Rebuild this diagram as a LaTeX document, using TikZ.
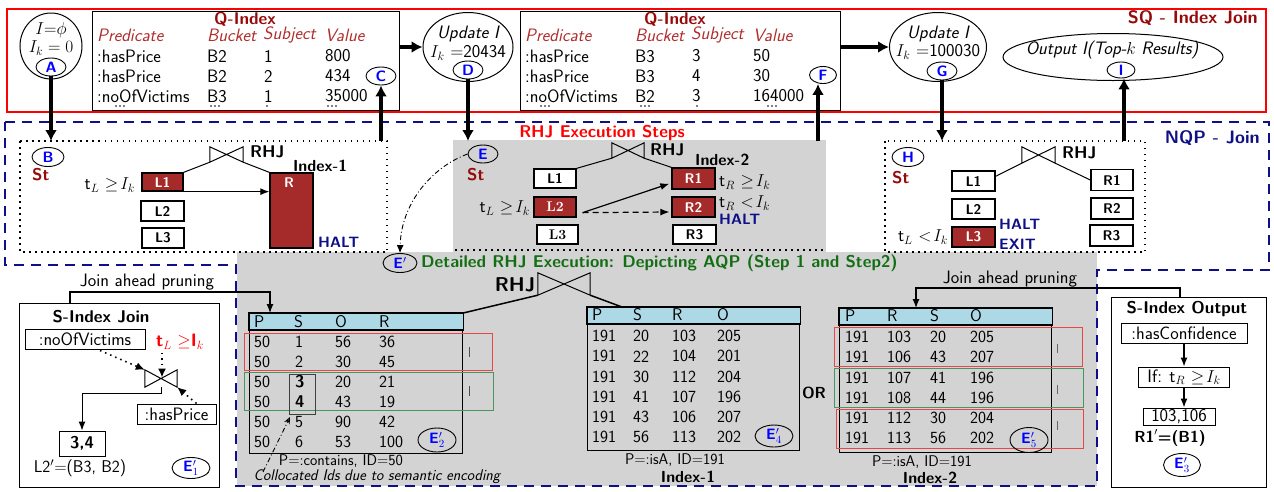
\documentclass[tikz,border=0pt]{standalone}
\usepackage{fontspec}
\renewcommand{\familydefault}{\sfdefault}
\usetikzlibrary{arrows.meta,shapes.geometric,calc}
\definecolor{dred}{RGB}{150,10,10}
\definecolor{hdr}{RGB}{175,45,45}
\definecolor{brn}{RGB}{165,42,42}
\definecolor{nvy}{RGB}{15,15,135}
\definecolor{dgrn}{RGB}{20,110,20}
\definecolor{gbg}{RGB}{211,211,211}
\definecolor{lbl}{RGB}{173,216,230}
\definecolor{trr}{RGB}{235,70,70}
\definecolor{trg}{RGB}{70,150,100}
\newcommand{\myfs}[1]{\fontsize{#1}{#1}\selectfont}
\newcommand{\drawtie}[1]{\draw[line width=1pt] (#1.north west) -- (#1.south west) -- (#1.north east) -- (#1.south east) -- cycle;}
\newcommand{\tdots}[2]{\fill (#1-4,#2) circle (0.9) (#1,#2) circle (0.9) (#1+4,#2) circle (0.9);}
\tikzset{
  lab/.style={inner sep=0pt},
  lw/.style={lab, anchor=west},
  tv/.style={lw, font=\myfs{17}},
  hd/.style={lw, text=hdr, font=\itshape\myfs{18}},
  tarr/.style={line width=3.5pt, -{Latex[length=11pt,width=12pt]}},
  narr/.style={line width=1.2pt, -{Latex[length=9pt,width=7pt]}},
  bl/.style={draw, ellipse, inner sep=0pt, minimum width=30pt, minimum height=18pt, line width=0.9pt, text=blue, font=\bfseries\myfs{15}},
  wbox/.style={draw, line width=1.3pt, fill=white, inner sep=0pt, font=\bfseries\myfs{14}},
  rbox/.style={wbox, fill=brn, text=white},
  sbox/.style={draw, line width=1pt, fill=white, inner sep=0pt},
  dotbox/.style={line width=1.6pt, dash pattern=on 1.5pt off 4.5pt},
  tie/.style={inner sep=0pt},
  st/.style={lw, text=dred, font=\bfseries\myfs{17}},
  halt/.style={lw, text=nvy, font=\bfseries\myfs{15}},
  big/.style={draw, ellipse, inner sep=0pt, line width=1pt},
  tbl/.style={draw, line width=1.2pt, inner sep=0pt, anchor=north west},
  dd/.style={line width=0.9pt, dash pattern=on 5pt off 2.5pt on 1pt off 2.5pt},
  dotarr/.style={line width=1.6pt, dash pattern=on 1.5pt off 4pt, -{Latex[length=9pt,width=8pt]}},
}
\begin{document}
\begin{tikzpicture}[x=1pt,y=-1pt,font=\myfs{18}]
\useasboundingbox (0,0) rectangle (1274,491);
% gray backgrounds
\fill[gbg] (453,140) rectangle (826,253);
\fill[gbg] (237,252) rectangle (1097,486);
\draw[dotbox] (455,250) -- (825,250);

% ===== SQ - Index Join =====
\draw[red, line width=2.5pt] (7,9) rectangle (1266,112);
\node[lab, anchor=east, text=dred, font=\bfseries\myfs{18}] (sqt) at (1258,18) {SQ - Index Join};

\node[big, minimum width=62pt, minimum height=66pt] (A) at (51,46) {};
\node[lab] (At1) at (51,30) {$I{=}\phi$};
\node[lab] (At2) at (51,48) {$I_k = 0$};
\node[bl] (a) at (51,67) {A};

\node[tbl, minimum width=307pt, minimum height=99pt, line width=1pt] (Q1) at (92,11) {};
\node[lab, text=dred, font=\bfseries\myfs{17}] (q1t) at (245,19) {Q-Index};
\node[hd] (q1h1) at (97,35) {Predicate};
\node[hd] (q1h2) at (207,35) {Bucket};
\node[hd] (q1h3) at (263,35) {Subject};
\node[hd] (q1h4) at (325,35) {Value};
\foreach \p/\b/\s/\v [count=\i] in {:hasPrice/B2/1/800, :hasPrice/B2/2/434, :noOfVictims/B3/1/35000} {
  \node[lw] (q1p\i) at (97,{36+20*\i}) {\p};
  \node[lw] (q1b\i) at (207,{36+20*\i}) {\b};
  \node[lw] (q1s\i) at (264,{36+20*\i}) {\s};
  \node[lw] (q1v\i) at (325,{36+20*\i}) {\v};
}
\tdots{120}{106}
\tdots{215}{106}
\fill (267,106) circle (0.9);
\tdots{332}{106}
\node[bl] (c) at (381,76) {C};

\node[big, minimum width=90pt, minimum height=69pt] (D) at (468,47) {};
\node[lab, font=\itshape\myfs{18}] (Dt1) at (468,34) {Update I};
\node[lab] (Dt2) at (468,53) {$I_k$ =20434};
\node[bl] (d) at (468,70) {D};

\node[tbl, minimum width=320pt, minimum height=99pt, line width=1pt] (Q2) at (520,11) {};
\node[lab, text=dred, font=\bfseries\myfs{17}] (q2t) at (675,19) {Q-Index};
\node[hd] (q2h1) at (525,35) {Predicate};
\node[hd] (q2h2) at (635,35) {Bucket};
\node[hd] (q2h3) at (691,35) {Subject};
\node[hd] (q2h4) at (753,35) {Value};
\foreach \p/\b/\s/\v [count=\i] in {:hasPrice/B3/3/50, :hasPrice/B3/4/30, :noOfVictims/B2/3/164000} {
  \node[lw] (q2p\i) at (525,{36+20*\i}) {\p};
  \node[lw] (q2b\i) at (635,{36+20*\i}) {\b};
  \node[lw] (q2s\i) at (692,{36+20*\i}) {\s};
  \node[lw] (q2v\i) at (753,{36+20*\i}) {\v};
}
\tdots{545}{106}
\tdots{645}{106}
\fill (697,106) circle (0.9);
\tdots{772}{106}
\node[bl, minimum width=27pt, minimum height=17pt] (f) at (823,75) {F};

\node[big, minimum width=97pt, minimum height=69pt] (G) at (938,47) {};
\node[lab, font=\itshape\myfs{18}] (Gt1) at (938,34) {Update I};
\node[lab] (Gt2) at (938,52) {$I_k$ =100030};
\node[bl] (g) at (942,71) {G};

\node[big, minimum width=220pt, minimum height=47pt] (O) at (1113,57) {};
\node[lab, font=\itshape\myfs{18}] (Ot) at (1112,50) {Output I(Top-$k$ Results)};
\node[bl, minimum width=28pt, minimum height=16pt] (i) at (1121,70) {I};

% ===== NQP - Join =====
\draw[nvy, line width=2.5pt, dash pattern=on 10pt off 7pt] (5,122) -- (1269,122) -- (1269,270) -- (1097,270) -- (1097,486) -- (236,486) -- (236,265) -- (5,265) -- cycle;
\node[lab, anchor=east, text=nvy, font=\bfseries\myfs{18}] (nqp) at (1260,138) {NQP - Join};

% thick arrows between layers
\draw[tarr] ($(Q1.north east)+(0,36)$) -- (D.west);
\draw[tarr] ($(Q2.north east)+(0,36)$) -- (G.west);
\coordinate (Bin) at (51,141);
\coordinate (Cout) at (381,141);
\coordinate (Ein) at (468,141);
\coordinate (Fout) at (818,141);
\coordinate (Hin) at (942,141);
\coordinate (Iout) at (1124,141);
\draw[tarr] (a.south) -- (Bin);
\draw[tarr] (Cout) -- (c.south);
\draw[tarr] (d.south) -- (Ein);
\draw[tarr] (Fout) -- (Fout |- f.south);
\draw[tarr] (g.south) -- (Hin);
\draw[tarr] (Iout) -- (Iout |- i.south);

% left dotted box (B)
\draw[dotbox] (20,141) rectangle (387,252);
\node[bl, minimum width=32pt, minimum height=19pt] (b) at (48,157) {B};
\node[st] (bst) at (32,175) {St};
\node[tie, minimum width=33pt, minimum height=15pt] (bt1) at (226.5,154.5) {};
\drawtie{bt1}
\node[lw, font=\bfseries\myfs{17}] (rhj1) at (250,152) {RHJ};
\node[lw, font=\bfseries\myfs{16}] (ix1) at (293,166) {Index-1};
\node[rbox, minimum width=41pt, minimum height=18pt] (l11) at (162.5,182) {L1};
\node[wbox, minimum width=43pt, minimum height=20pt] (l12) at (162.5,211) {L2};
\node[wbox, minimum width=42pt, minimum height=20pt] (l13) at (163,238) {L3};
\node[rbox, minimum width=43pt, minimum height=75pt] (r1) at (291.5,210.5) {};
\node[lab, text=white, font=\bfseries\myfs{14}] (r1t) at (289,183) {R};
\node[lab, anchor=east] (c1) at (135,185) {t$_L$ $\geq\!I_k$};
\node[halt] (h1) at (318,242) {HALT};
\draw[line width=1pt] (l11.north east) -- (bt1.south west);
\draw[line width=1pt] (bt1.south east) -- (r1.north west);
\draw[narr] (l11.south east) -- (l11.south east -| r1.west);

% middle gray box (E)
\node[bl] (e) at (483,154) {E};
\node[st] (est) at (467,175) {St};
\node[lab, text=red, font=\bfseries\myfs{17}] (rhjes) at (602,133) {RHJ Execution Steps};
\node[tie, minimum width=32pt, minimum height=15pt] (bt2) at (628,150.5) {};
\drawtie{bt2}
\node[lw, font=\bfseries\myfs{17}] (rhj2) at (650,150) {RHJ};
\node[lw, font=\bfseries\myfs{16}] (ix2) at (695,160) {Index-2};
\node[wbox, minimum width=42pt, minimum height=19pt] (l21) at (555,178.5) {L1};
\node[rbox, minimum width=42pt, minimum height=20pt, font=\rmfamily\bfseries\myfs{14}] (l22) at (555,207) {L2};
\node[wbox, minimum width=41pt, minimum height=19pt, font=\rmfamily\bfseries\myfs{14}] (l23) at (557.5,234.5) {L3};
\node[rbox, minimum width=43pt, minimum height=21pt] (r21) at (693.5,178.5) {R1};
\node[rbox, minimum width=43pt, minimum height=20pt] (r22) at (693.5,207) {R2};
\node[wbox, minimum width=43pt, minimum height=19pt] (r23) at (694.5,234.5) {R3};
\node[lw] (c21) at (719,182) {t$_R$ $\geq\!I_k$};
\node[lw] (c22) at (719,203) {t$_R$ $<\!I_k$};
\node[halt] (h2) at (719,219) {HALT};
\node[lab, anchor=east] (c23) at (530,208) {t$_L$ $\geq\!I_k$};
\draw[line width=1pt] (l21.north east) -- (bt2.south west);
\draw[line width=1pt] (bt2.south east) -- (r21.north west);
\coordinate (l22o) at ($(l22.south east)+(6,-5)$);
\draw[narr] (l22o) -- ($(r21.south west)+(-2,-6)$);
\draw[narr, dash pattern=on 6pt off 4pt] (l22o) -- ($(r22.west)+(-2,5)$);

% right dotted box (H)
\draw[dotbox] (885,141) rectangle (1145,252);
\node[bl, minimum width=32pt, minimum height=19pt] (h) at (908,157) {H};
\node[st] (hst) at (892,178) {St};
\node[tie, minimum width=33pt, minimum height=16pt] (bt3) at (1038.5,155) {};
\drawtie{bt3}
\node[lw, font=\bfseries\myfs{17}] (rhj3) at (1062,153) {RHJ};
\node[wbox, minimum width=43pt, minimum height=20pt] (l31) at (973.5,181) {L1};
\node[wbox, minimum width=43pt, minimum height=20pt] (l32) at (973.5,209) {L2};
\node[rbox, minimum width=43pt, minimum height=20pt] (l33) at (973.5,237) {L3};
\node[wbox, minimum width=42pt, minimum height=21pt] (r31) at (1112,180) {R1};
\node[wbox, minimum width=42pt, minimum height=21pt] (r32) at (1112,208.5) {R2};
\node[wbox, minimum width=43pt, minimum height=21pt] (r33) at (1111.5,235.5) {R3};
\node[halt] (h3a) at (999,224) {HALT};
\node[halt] (h3b) at (999,244) {EXIT};
\node[lab, anchor=east] (c3) at (948,237) {t$_L$ $<\!I_k$};
\draw[line width=1pt] ($(l31.north east)+(0,6)$) -- (bt3.south west);
\draw[line width=1pt] (bt3.south east) -- (r31.west);

% E' title and dash-dot link
\node[bl, minimum width=34pt, minimum height=19pt] (ep) at (400,263) {E$'$};
\node[lw, text=dgrn, font=\bfseries\myfs{17}] (dtitle) at (421,263) {Detailed RHJ Execution: Depicting AQP (Step 1 and Step2)};
\draw[dd, -{Latex[length=8pt,width=7pt]}] (e.west) .. controls (430,168) and (401,205) .. (ep.north);

% ===== S-Index Join (left) =====
\node[tbl, line width=1pt, minimum width=200pt, minimum height=184pt] (SIJ) at (19,303) {};
\node[lab, font=\bfseries\myfs{17}] (sijt) at (101,317) {S-Index Join};
\node[sbox, minimum width=120pt, minimum height=20pt] (nov) at (85,339) {:noOfVictims};
\node[lab, text=red] (tlr) at (180,342) {\textbf{t}$_L$ $\geq$\textbf{I}$_k$};
\node[tie, minimum width=32pt, minimum height=17pt] (bt5) at (161,378.5) {};
\drawtie{bt5}
\node[sbox, minimum width=79pt, minimum height=20pt] (hp) at (176.5,414) {:hasPrice};
\node[sbox, minimum width=46pt, minimum height=25pt, font=\bfseries\myfs{17}] (r34) at (82,443.5) {3,4};
\node[lab, font=\myfs{17}] (l2p) at (80,468) {L2$'$=(B3, B2)};
\node[bl, minimum width=38pt, minimum height=20pt] (e1) at (191,468) {E$'_1$};
\draw[dotarr] ($(nov.south)+(15,1)$) -- (bt5.north west);
\draw[dotarr] ($(tlr.south)+(-18,3)$) -- ($(bt5.center)+(1,-1)$);
\draw[dotarr] ($(hp.north)+(20,0)$) -- (bt5.south east);
\draw[line width=1pt, -{Latex[length=9pt,width=7pt]}] (bt5.south) -- ++(0,6) -| (r34.north);
\node[lab] (jap1) at (147,282) {Join ahead pruning};

% ===== Table 1 (E'_2) =====
\node[tbl, minimum width=213pt, minimum height=140pt] (T1) at (249,313) {};
\draw[line width=1.2pt, fill=lbl] (T1.north west) rectangle ($(T1.north east)+(0,17)$);
\node[tv] (t1h1) at (254,322) {P};
\node[tv] (t1h2) at (294,322) {S};
\node[tv] (t1h3) at (335,322) {O};
\node[tv] (t1h4) at (379,322) {R};
\foreach \p/\s/\o/\r [count=\i] in {50/1/56/36, 50/2/30/45, 50/\textbf{3}/20/21, 50/\textbf{4}/43/19, 50/5/90/42, 50/6/53/100} {
  \node[tv] (t1p\i) at (254,{322+20*\i}) {\p};
  \node[tv] (t1s\i) at (295,{322+20*\i}) {\s};
  \node[tv] (t1o\i) at (335,{322+20*\i}) {\o};
  \node[tv] (t1r\i) at (379,{322+20*\i}) {\r};
}
\draw[trr, line width=1pt] (244,333) rectangle (492,370);
\draw[trg, line width=1pt] (244,372) rectangle (493,410);
\node[draw=black!75, line width=1pt, minimum width=26pt, minimum height=40pt, inner sep=0pt, anchor=north west] (t1b) at (289,374) {};
\draw[line width=0.8pt, black!70] (469,347) -- (469,357);
\draw[line width=0.8pt, black!70] (469,386) -- (469,396);
\node[bl, minimum width=38pt, minimum height=24pt] (e2) at (437,440) {E$'_2$};
\node[lab, font=\myfs{15.5}] (t1n) at (341,461) {P=:contains, ID=50};
\node[lab, font=\itshape\myfs{15.5}] (coll) at (377,477) {Collocated Ids due to semantic encoding};
\coordinate (cl0) at (263,472);
\draw[dd, -{Stealth[open,length=7pt,width=6pt]}] (cl0) -- ($(t1b.south west)+(1,2)$);
\draw[narr] ($(SIJ.north west)+(51,0)$) -- ++(0,-11) -| ($(T1.north west)+(21,0)$);

% lower RHJ
\node[tie, minimum width=52pt, minimum height=22pt] (bt4) at (564,284) {};
\drawtie{bt4}
\node[lab, font=\bfseries\myfs{20}] (rhj4) at (515,285) {RHJ};

% ===== Table 2 (E'_4) =====
\node[tbl, minimum width=212pt, minimum height=143pt] (T2) at (587,307) {};
\draw[line width=1.2pt, fill=lbl] (T2.north west) rectangle ($(T2.north east)+(0,17)$);
\node[tv] (t2h1) at (592,315) {P};
\node[tv] (t2h2) at (633,315) {S};
\node[tv] (t2h3) at (672,315) {R};
\node[tv] (t2h4) at (717,315) {O};
\foreach \p/\s/\r/\o [count=\i] in {191/20/103/205, 191/22/104/201, 191/30/112/204, 191/41/107/196, 191/43/106/207, 191/56/113/202} {
  \node[tv] (t2p\i) at (592,{316+20.2*\i}) {\p};
  \node[tv] (t2s\i) at (633,{316+20.2*\i}) {\s};
  \node[tv] (t2r\i) at (672,{316+20.2*\i}) {\r};
  \node[tv] (t2o\i) at (717,{316+20.2*\i}) {\o};
}
\node[bl, minimum width=38pt, minimum height=22pt] (e4) at (774,436) {E$'_4$};
\node[lab, font=\myfs{15.5}] (t2n) at (675,460) {P=:isA, ID=191};
\node[lab, font=\bfseries\myfs{16}] (t2i) at (688,477) {Index-1};
\node[lab, font=\bfseries\myfs{16}] (or) at (814,393) {OR};
\draw[line width=1.5pt] (bt4.south west) -- (T1.north east);
\draw[line width=1.5pt] (bt4.south east) -- ($(T2.north west)+(35,0)$);

% ===== Table 3 (E'_5) =====
\node[tbl, minimum width=212pt, minimum height=144pt] (T3) at (839,308) {};
\draw[line width=1.2pt, fill=lbl] (T3.north west) rectangle ($(T3.north east)+(0,17)$);
\node[tv] (t3h1) at (845,316) {P};
\node[tv] (t3h2) at (887,316) {R};
\node[tv] (t3h3) at (930,316) {S};
\node[tv] (t3h4) at (970,316) {O};
\foreach \p/\r/\s/\o [count=\i] in {191/103/20/205, 191/106/43/207, 191/107/41/196, 191/108/44/196, 191/112/30/204, 191/113/56/202} {
  \node[tv] (t3p\i) at (845,{317+20.2*\i}) {\p};
  \node[tv] (t3r\i) at (887,{317+20.2*\i}) {\r};
  \node[tv] (t3s\i) at (930,{317+20.2*\i}) {\s};
  \node[tv] (t3o\i) at (970,{317+20.2*\i}) {\o};
}
\draw[trr, line width=1pt] (834,327) rectangle (1082,366);
\draw[trg, line width=1pt] (834,368) rectangle (1083,407);
\draw[trr, line width=1pt] (836,409) rectangle (1083,448);
\draw[line width=0.8pt, black!60] (1057,344) -- (1057,353);
\draw[line width=0.8pt, black!60] (1057,385) -- (1057,394);
\draw[line width=0.8pt, black!60] (1057,421) -- (1057,430);
\node[bl, minimum width=38pt, minimum height=25pt] (e5) at (1029,440) {E$'_5$};
\node[lab, font=\myfs{15.5}] (t3n) at (922,462) {P=:isA, ID=191};
\node[lab, font=\bfseries\myfs{16}] (t3i) at (930,478) {Index-2};

% ===== S-Index Output (right) =====
\node[tbl, line width=1pt, minimum width=155pt, minimum height=190pt] (SIO) at (1111,297) {};
\node[lab, font=\bfseries\myfs{17}] (siot) at (1187,309) {S-Index Output};
\node[sbox, minimum width=126pt, minimum height=20pt] (hc) at (1184,333) {:hasConfidence};
\node[sbox, minimum width=91pt, minimum height=20pt] (ifb) at (1184,377) {If: t$_R$ $\geq\!I_k$};
\node[sbox, minimum width=72pt, minimum height=17pt] (res) at (1179,416.5) {103,106};
\node[lab, font=\bfseries\myfs{16}] (r1p) at (1170,438) {R1$'$=(B1)};
\node[bl, minimum width=37pt, minimum height=23pt] (e3) at (1182,465) {E$'_3$};
\draw[narr] (hc.south) -- (ifb.north);
\draw[narr] (ifb.south) -- (ifb.south |- res.north);
\node[lab] (jap2) at (1010,279) {Join ahead pruning};
\draw[narr] ($(SIO.north west)+(69,0)$) -- ++(0,-9) -| ($(T3.north west)+(77,0)$);
\end{tikzpicture}
\end{document}
